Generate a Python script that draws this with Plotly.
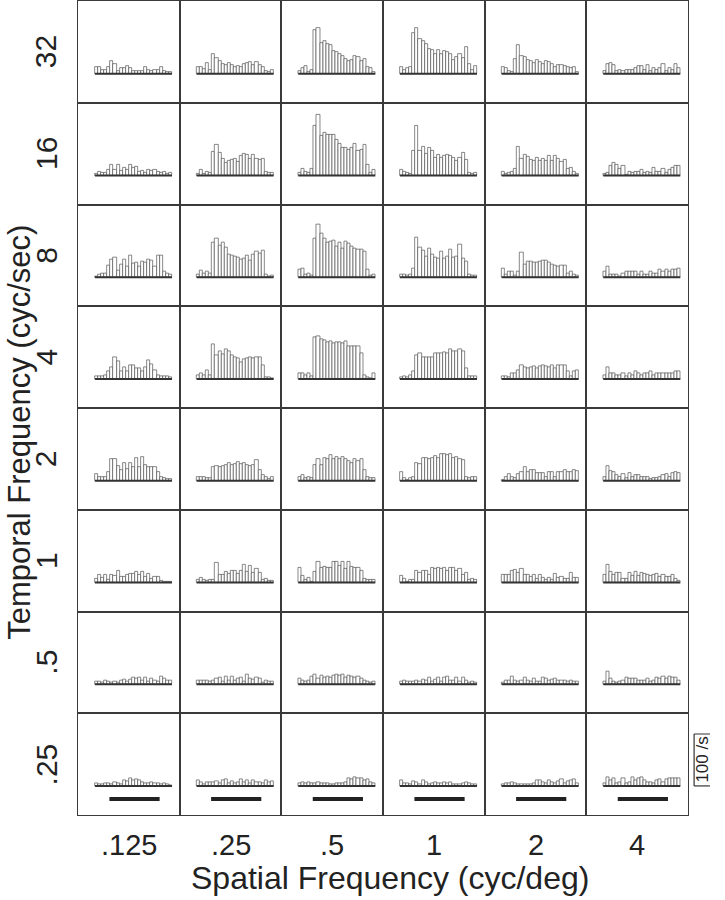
import plotly.graph_objects as go
from plotly.subplots import make_subplots

# spatial frequency columns (cyc/deg), temporal frequency rows (cyc/sec), top to bottom
spatial_freqs = [".125", ".25", ".5", "1", "2", "4"]
temporal_freqs = ["32", "16", "8", "4", "2", "1", ".5", ".25"]

# PSTH spike rates (spikes/s), 25 bins per histogram, one list per spatial frequency
psth_32 = [
    [13, 13, 8, 8, 12, 25, 19, 6, 11, 11, 15, 11, 6, 5, 5, 6, 12, 8, 6, 8, 8, 12, 6, 3, 3],
    [13, 13, 9, 21, 8, 37, 31, 24, 19, 16, 21, 16, 13, 14, 13, 19, 21, 22, 16, 22, 16, 13, 6, 3, 8],
    [5, 11, 15, 3, 8, 85, 88, 59, 62, 58, 56, 43, 42, 37, 35, 29, 24, 26, 34, 32, 24, 29, 13, 11, 4],
    [12, 8, 11, 12, 79, 88, 67, 63, 58, 48, 46, 38, 46, 37, 44, 42, 37, 26, 32, 37, 30, 51, 18, 8, 15],
    [12, 10, 6, 4, 29, 56, 35, 32, 26, 24, 21, 27, 22, 18, 24, 22, 19, 13, 17, 16, 14, 13, 10, 13, 4],
    [5, 18, 21, 16, 6, 8, 5, 8, 8, 8, 10, 15, 15, 8, 16, 5, 10, 8, 10, 19, 6, 10, 8, 18, 10],
]
psth_16 = [
    [3, 8, 6, 5, 10, 21, 10, 21, 9, 14, 10, 21, 15, 17, 8, 9, 5, 11, 9, 11, 8, 6, 8, 3, 6],
    [4, 11, 4, 8, 6, 46, 59, 43, 32, 25, 28, 30, 32, 27, 38, 41, 40, 33, 40, 33, 30, 33, 8, 6, 6],
    [6, 12, 8, 6, 12, 96, 117, 76, 82, 78, 79, 79, 69, 61, 53, 53, 50, 53, 61, 47, 50, 60, 21, 6, 10],
    [10, 8, 5, 3, 48, 96, 48, 55, 41, 53, 47, 34, 39, 34, 37, 39, 37, 35, 29, 34, 44, 30, 6, 3, 5],
    [8, 4, 5, 8, 12, 56, 33, 39, 36, 31, 29, 35, 28, 33, 29, 37, 28, 37, 33, 26, 30, 12, 15, 8, 3],
    [3, 6, 18, 24, 21, 12, 18, 2, 8, 5, 7, 8, 10, 6, 8, 5, 15, 8, 8, 13, 5, 10, 15, 18, 18],
]
psth_8 = [
    [2, 6, 8, 8, 23, 35, 38, 12, 25, 35, 20, 41, 26, 29, 21, 30, 29, 34, 32, 21, 42, 41, 10, 8, 6],
    [6, 12, 8, 11, 8, 66, 74, 61, 66, 57, 44, 41, 40, 38, 35, 36, 41, 32, 44, 49, 46, 51, 6, 2, 4],
    [14, 16, 6, 8, 4, 74, 102, 85, 75, 66, 68, 71, 59, 66, 56, 68, 64, 60, 55, 53, 54, 49, 14, 4, 5],
    [5, 5, 4, 5, 17, 77, 57, 51, 40, 55, 44, 38, 36, 50, 36, 40, 53, 38, 40, 62, 36, 30, 5, 4, 3],
    [16, 6, 11, 11, 4, 10, 47, 25, 30, 30, 28, 28, 30, 33, 33, 28, 25, 22, 20, 23, 23, 8, 11, 5, 4],
    [10, 21, 6, 6, 6, 2, 8, 10, 10, 11, 10, 6, 10, 6, 6, 10, 8, 8, 15, 11, 14, 11, 15, 15, 16],
]
psth_4 = [
    [6, 6, 6, 8, 15, 23, 42, 35, 15, 23, 14, 27, 27, 20, 21, 15, 23, 36, 29, 17, 8, 6, 6, 5, 4],
    [8, 11, 8, 16, 8, 66, 45, 53, 47, 57, 53, 46, 42, 40, 32, 38, 40, 42, 40, 42, 42, 27, 3, 3, 2],
    [11, 11, 8, 11, 6, 80, 82, 77, 74, 70, 72, 68, 70, 70, 68, 72, 62, 62, 62, 62, 50, 8, 4, 2, 10],
    [4, 6, 4, 8, 15, 45, 49, 41, 42, 42, 42, 50, 50, 50, 51, 50, 57, 53, 53, 57, 53, 20, 6, 6, 5],
    [6, 6, 4, 11, 11, 17, 26, 23, 21, 23, 25, 21, 25, 26, 25, 23, 26, 21, 26, 27, 26, 14, 6, 15, 17],
    [8, 23, 11, 11, 8, 8, 11, 6, 11, 8, 14, 10, 8, 10, 10, 14, 8, 11, 10, 10, 11, 11, 10, 14, 15],
]
psth_2 = [
    [12, 7, 8, 7, 16, 41, 42, 29, 20, 35, 23, 35, 27, 44, 27, 46, 31, 27, 27, 27, 16, 7, 5, 4, 3],
    [8, 8, 8, 6, 6, 27, 29, 27, 29, 31, 35, 31, 32, 36, 32, 35, 31, 29, 31, 40, 20, 10, 8, 4, 7],
    [8, 10, 6, 7, 6, 31, 41, 31, 44, 41, 50, 42, 46, 41, 46, 42, 38, 35, 41, 38, 41, 20, 7, 6, 6],
    [16, 5, 2, 5, 8, 35, 33, 44, 44, 42, 44, 47, 44, 51, 51, 50, 51, 44, 46, 42, 40, 8, 5, 8, 8],
    [2, 8, 12, 8, 5, 12, 16, 27, 16, 20, 20, 14, 14, 14, 8, 16, 17, 8, 16, 17, 20, 16, 17, 21, 18],
    [8, 29, 18, 17, 10, 8, 12, 6, 14, 8, 10, 10, 7, 7, 7, 3, 5, 6, 8, 10, 12, 8, 14, 16, 14],
]
psth_1 = [
    [8, 15, 9, 14, 6, 14, 13, 23, 11, 11, 15, 17, 17, 21, 14, 21, 11, 17, 8, 11, 10, 4, 2, 1, 1],
    [6, 9, 6, 4, 6, 6, 38, 15, 15, 21, 17, 23, 23, 17, 23, 34, 21, 32, 19, 26, 19, 6, 8, 4, 4],
    [28, 13, 5, 9, 2, 20, 40, 28, 30, 28, 28, 40, 40, 32, 40, 26, 40, 30, 28, 28, 23, 8, 5, 6, 6],
    [13, 8, 2, 6, 6, 23, 19, 23, 23, 15, 28, 26, 28, 26, 28, 23, 28, 28, 23, 26, 15, 19, 6, 8, 6],
    [14, 14, 14, 23, 25, 19, 26, 15, 14, 11, 15, 8, 14, 9, 5, 9, 5, 17, 9, 11, 8, 8, 19, 9, 9],
    [15, 35, 20, 15, 19, 19, 8, 8, 19, 13, 20, 13, 19, 17, 15, 13, 15, 17, 11, 15, 11, 10, 15, 8, 4],
]
psth_05 = [
    [5, 6, 4, 8, 6, 4, 6, 3, 7, 9, 5, 9, 12, 10, 12, 8, 12, 6, 10, 8, 6, 14, 10, 7, 7],
    [8, 7, 7, 7, 6, 8, 10, 12, 6, 15, 8, 14, 7, 10, 12, 6, 18, 10, 9, 12, 10, 4, 7, 6, 6],
    [10, 8, 6, 8, 14, 18, 10, 16, 12, 14, 12, 16, 18, 16, 18, 12, 16, 14, 12, 14, 10, 8, 6, 4, 6],
    [6, 8, 5, 6, 6, 8, 6, 9, 8, 12, 6, 9, 12, 6, 12, 14, 8, 8, 12, 6, 12, 8, 4, 6, 3],
    [4, 8, 7, 14, 8, 6, 8, 12, 8, 6, 10, 6, 6, 12, 10, 7, 9, 10, 8, 7, 8, 6, 8, 6, 6],
    [5, 25, 10, 6, 4, 6, 8, 12, 10, 10, 10, 8, 7, 7, 10, 6, 8, 12, 10, 14, 10, 14, 12, 12, 7],
]
psth_025 = [
    [5, 4, 4, 6, 5, 4, 8, 6, 4, 10, 9, 14, 10, 12, 10, 7, 6, 5, 7, 5, 6, 4, 6, 3, 2],
    [10, 8, 4, 7, 8, 8, 9, 6, 10, 12, 6, 9, 5, 8, 12, 8, 11, 6, 10, 8, 8, 6, 10, 8, 9],
    [6, 8, 6, 7, 6, 6, 8, 6, 5, 5, 4, 4, 5, 5, 6, 8, 14, 12, 16, 14, 14, 10, 12, 8, 5],
    [10, 6, 6, 4, 9, 8, 4, 10, 7, 4, 6, 8, 6, 6, 8, 6, 8, 4, 4, 3, 6, 8, 5, 4, 4],
    [3, 5, 6, 8, 5, 4, 3, 3, 3, 4, 6, 10, 11, 8, 6, 10, 8, 5, 9, 12, 6, 9, 10, 12, 6],
    [6, 16, 10, 14, 6, 8, 14, 6, 8, 16, 10, 14, 16, 10, 8, 8, 6, 10, 12, 8, 12, 14, 14, 14, 14],
]
psth_rows = [psth_32, psth_16, psth_8, psth_4, psth_2, psth_1, psth_05, psth_025]

# stimulus period (in bins) and scale bar (spikes/s)
stim_on, stim_off = 4.2, 20.5
stim_level = -25
scale_bar = 100

n_rows, n_cols = len(temporal_freqs), len(spatial_freqs)
fig = make_subplots(rows=n_rows, cols=n_cols, horizontal_spacing=0, vertical_spacing=0)

for r, row in enumerate(psth_rows):
    for c, rates in enumerate(row):
        bins = list(range(len(rates)))
        fig.add_trace(go.Bar(x=bins, y=rates, width=1,
                             marker=dict(color="white", line=dict(color="#555", width=0.7))),
                      row=r + 1, col=c + 1)
        fig.add_trace(go.Scatter(x=[bins[0] - 0.5, bins[-1] + 0.5], y=[0, 0], mode="lines",
                                 line=dict(color="#333", width=2)),
                      row=r + 1, col=c + 1)
        if r == n_rows - 1:
            fig.add_trace(go.Scatter(x=[stim_on, stim_off], y=[stim_level, stim_level], mode="lines",
                                     line=dict(color="#222", width=4)),
                          row=r + 1, col=c + 1)

fig.update_xaxes(range=[-6, 27], showticklabels=False, showgrid=False, zeroline=False,
                 showline=True, mirror=True, linecolor="#3a3a3a", linewidth=1, ticks="")
fig.update_yaxes(range=[-56, 140], showticklabels=False, showgrid=False, zeroline=False,
                 showline=True, mirror=True, linecolor="#3a3a3a", linewidth=1, ticks="")

font = dict(family="Liberation Sans, Arial, sans-serif", color="#222")
ann = []
for r, lab in enumerate(temporal_freqs):
    ann.append(dict(text=lab, x=-0.052, y=1 - (r + 0.5) / n_rows, xref="paper", yref="paper",
                    xanchor="center", yanchor="middle", textangle=-90, showarrow=False,
                    font=dict(size=30, **font)))
for c, lab in enumerate(spatial_freqs):
    ann.append(dict(text=lab, x=(c + 0.5) / n_cols, y=-0.037, xref="paper", yref="paper",
                    xanchor="center", yanchor="middle", showarrow=False, font=dict(size=29, **font)))
ann.append(dict(text="Spatial Frequency (cyc/deg)", x=0.511, y=-0.078, xref="paper", yref="paper",
                xanchor="center", yanchor="middle", showarrow=False, font=dict(size=32, **font)))
ann.append(dict(text="Temporal Frequency (cyc/sec)", x=-0.096, y=0.47, xref="paper", yref="paper",
                xanchor="center", yanchor="middle", textangle=-90, showarrow=False,
                font=dict(size=31, **font)))

# scale bar next to the bottom-right panel
yref_sb = "y%d" % (n_rows * n_cols)
ann.append(dict(text="100 /s", x=1.024, y=scale_bar / 2, xref="paper", yref=yref_sb,
                xanchor="center", yanchor="middle", textangle=-90, showarrow=False,
                font=dict(size=17, **font)))
line = dict(color="#333", width=1.2)
shapes = [
    dict(type="line", xref="paper", yref=yref_sb, x0=1.010, x1=1.010, y0=0, y1=scale_bar, line=line),
    dict(type="line", xref="paper", yref=yref_sb, x0=1.010, x1=1.036, y0=scale_bar, y1=scale_bar, line=line),
    dict(type="line", xref="paper", yref=yref_sb, x0=1.010, x1=1.036, y0=0, y1=0, line=line),
]

fig.update_layout(width=725, height=900, margin=dict(l=78, r=37, t=1, b=85, autoexpand=False),
                  paper_bgcolor="white", plot_bgcolor="white", showlegend=False,
                  bargap=0, annotations=ann, shapes=shapes)

fig.write_html("out.html", config={"displayModeBar": False},
               post_script="document.body.style.margin='0';")
